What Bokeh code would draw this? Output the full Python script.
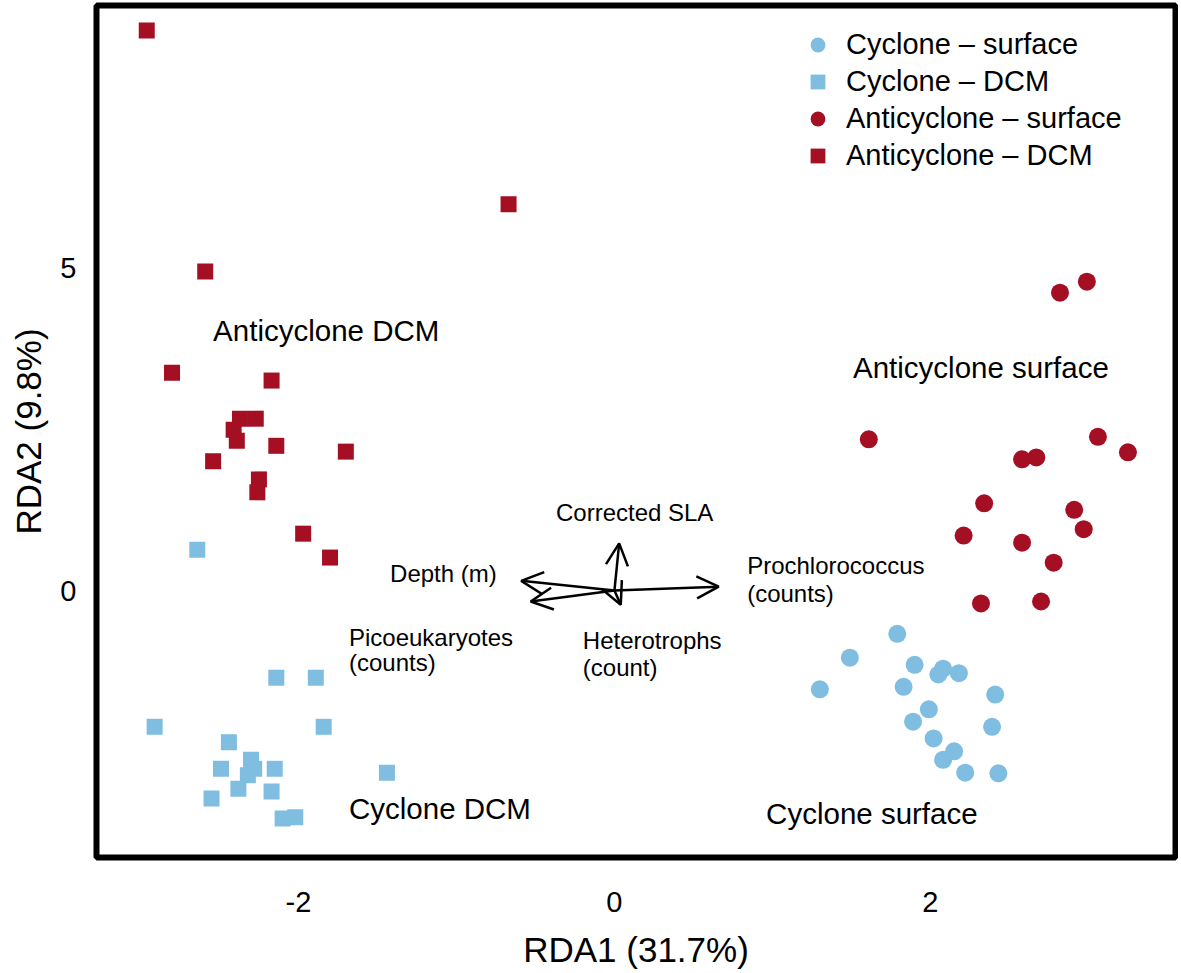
from bokeh.plotting import figure
from bokeh.models import Range1d, FixedTicker, Arrow, OpenHead, Legend, LegendItem, ColumnDataSource
from bokeh.core.properties import value
from bokeh.embed import file_html
from bokeh.resources import INLINE

# ---------------- data ----------------
cyc_surf_x = [1.79, 1.49, 1.30, 1.90, 1.83, 2.08, 2.05, 2.18, 2.41, 1.99, 1.89, 2.39, 2.02, 2.15, 2.08, 2.22, 2.43]
cyc_surf_y = [-0.67, -1.04, -1.53, -1.15, -1.49, -1.21, -1.30, -1.28, -1.61, -1.84, -2.03, -2.11, -2.29, -2.49, -2.62, -2.82, -2.83]

cyc_dcm_x = [-2.64, -2.14, -1.89, -2.91, -1.84, -2.44, -2.49, -2.30, -2.28, -2.32, -2.15, -2.38, -2.17, -2.55, -2.10, -2.02, -1.44]
cyc_dcm_y = [0.63, -1.35, -1.35, -2.11, -2.11, -2.35, -2.76, -2.62, -2.76, -2.86, -2.76, -3.07, -3.11, -3.22, -3.53, -3.51, -2.82]

anti_surf_x = [2.82, 2.99, 1.61, 3.06, 3.25, 2.58, 2.67, 2.34, 2.91, 2.97, 2.21, 2.58, 2.78, 2.32, 2.70]
anti_surf_y = [4.61, 4.78, 2.34, 2.38, 2.14, 2.03, 2.06, 1.35, 1.25, 0.95, 0.85, 0.74, 0.43, -0.20, -0.17]

anti_dcm_x = [-2.96, -0.67, -2.59, -2.80, -2.17, -2.37, -2.27, -2.41, -2.39, -2.14, -1.70, -2.54, -2.25, -2.26, -1.97, -1.80]
anti_dcm_y = [8.67, 5.98, 4.94, 3.37, 3.25, 2.66, 2.66, 2.49, 2.32, 2.24, 2.15, 2.00, 1.72, 1.52, 0.88, 0.51]

legend_labels = ["Cyclone \u2013 surface", "Cyclone \u2013 DCM", "Anticyclone \u2013 surface", "Anticyclone \u2013 DCM"]

# environmental vectors (from origin)
vec_x_end = [0.66, -0.59, -0.53, 0.03, 0.04]
vec_y_end = [0.06, 0.15, -0.17, 0.73, -0.22]

vec_label_text = ["Corrected SLA", "Depth (m)", "Prochlorococcus", "(counts)",
                  "Picoeukaryotes", "(counts)", "Heterotrophs", "(count)"]
vec_label_x = [-0.37, -1.42, 0.84, 0.84, -1.68, -1.68, -0.20, -0.20]
vec_label_y = [1.21, 0.26, 0.39, -0.05, -0.73, -1.11, -0.77, -1.19]

group_text = ["Anticyclone DCM", "Anticyclone surface", "Cyclone DCM", "Cyclone surface"]
group_x = [-2.54, 1.51, -1.68, 0.96]
group_y = [4.02, 3.45, -3.37, -3.45]

x_ticks = [-2, 0, 2]
x_tick_labels = {-2: "-2", 0: "0", 2: "2"}
y_ticks = [0, 5]
x_title = "RDA1 (31.7%)"
y_title = "RDA2 (9.8%)"

# ---------------- style ----------------
BLUE = "#7FBEE0"
RED = "#A50F24"
FONT = "Liberation Sans"

p = figure(width=1178, height=972,
           x_range=Range1d(-3.278, 3.551), y_range=Range1d(-4.133, 9.056),
           output_backend="svg", toolbar_location=None,
           min_border_left=96, min_border_right=3, min_border_top=5, min_border_bottom=115)

p.outline_line_color = "black"
p.outline_line_width = 6
p.xgrid.visible = False
p.ygrid.visible = False
p.background_fill_color = "white"
p.border_fill_color = "white"

for ax in (p.xaxis[0], p.yaxis[0]):
    ax.axis_line_color = None
    ax.major_tick_line_color = None
    ax.minor_tick_line_color = None
    ax.major_tick_out = 0
    ax.major_tick_in = 0
    ax.minor_tick_out = 0
    ax.minor_tick_in = 0
    ax.major_label_text_font = FONT
    ax.major_label_text_font_size = "29px"
    ax.major_label_text_color = "black"
    ax.axis_label_text_font = FONT
    ax.axis_label_text_font_size = "35px"
    ax.axis_label_text_font_style = "normal"
    ax.axis_label_text_color = "black"

p.xaxis.ticker = FixedTicker(ticks=x_ticks)
p.xaxis.major_label_overrides = x_tick_labels
p.yaxis.ticker = FixedTicker(ticks=y_ticks)
p.xaxis.axis_label = x_title
p.yaxis.axis_label = y_title
p.xaxis.major_label_standoff = 34
p.xaxis.axis_label_standoff = 15
p.yaxis.major_label_standoff = 20
p.yaxis.axis_label_standoff = 9
p.yaxis.major_label_orientation = "horizontal"

# points
r_cs = p.scatter(cyc_surf_x, cyc_surf_y, marker="circle", size=18, fill_color=BLUE, line_color=None)
r_cd = p.scatter(cyc_dcm_x, cyc_dcm_y, marker="square", size=16, fill_color=BLUE, line_color=None)
r_as = p.scatter(anti_surf_x, anti_surf_y, marker="circle", size=18, fill_color=RED, line_color=None)
r_ad = p.scatter(anti_dcm_x, anti_dcm_y, marker="square", size=16, fill_color=RED, line_color=None)

# vectors
vec_src = ColumnDataSource(dict(x0=[0.0] * len(vec_x_end), y0=[0.0] * len(vec_y_end),
                                x1=vec_x_end, y1=vec_y_end))
p.add_layout(Arrow(source=vec_src, x_start="x0", y_start="y0", x_end="x1", y_end="y1",
                   line_color="black", line_width=2.5,
                   end=OpenHead(size=22, line_width=2.5, line_color="black")))

p.text(x=vec_label_x, y=vec_label_y, text=vec_label_text,
       text_font=value(FONT), text_font_size="24px", text_color="black",
       text_align="left", text_baseline="middle")

p.text(x=group_x, y=group_y, text=group_text,
       text_font=value(FONT), text_font_size="29.5px", text_color="black",
       text_align="left", text_baseline="middle")

legend = Legend(items=[LegendItem(label=legend_labels[0], renderers=[r_cs]),
                       LegendItem(label=legend_labels[1], renderers=[r_cd]),
                       LegendItem(label=legend_labels[2], renderers=[r_as]),
                       LegendItem(label=legend_labels[3], renderers=[r_ad])],
                location=(703, 683), glyph_width=37, glyph_height=37, spacing=0,
                label_standoff=10, padding=0, margin=0, label_height=37,
                border_line_color=None, background_fill_alpha=0,
                label_text_font=FONT, label_text_font_size="29px", label_text_color="black")
p.add_layout(legend)

open("out.html", "w").write(file_html(p, INLINE))
